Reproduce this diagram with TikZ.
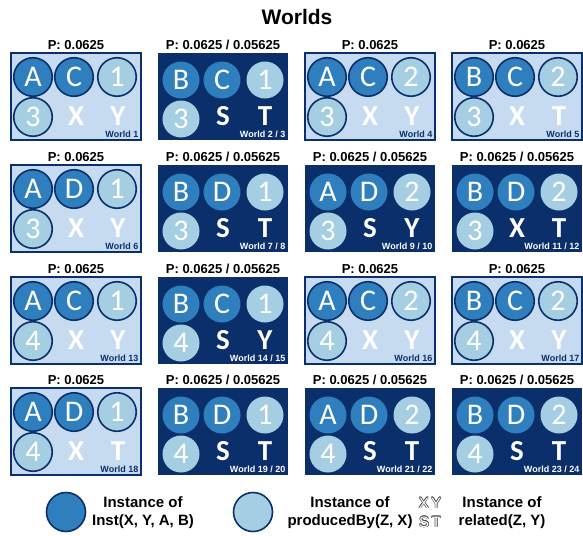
\documentclass[tikz,border=0pt]{standalone}
\usepackage{fontspec}
\setmainfont{Liberation Sans}
\newfontfamily\circfont{Carlito}
\definecolor{navy}{HTML}{0B2F6B}
\definecolor{midblue}{HTML}{2F7FBF}
\definecolor{lightc}{HTML}{A6CEE3}
\definecolor{lightbg}{HTML}{C6DBEF}
\tikzset{
  lightbox/.style={draw=navy, line width=1.5pt, fill=lightbg, minimum width=130pt, minimum height=87pt, inner sep=0pt, outer sep=0pt, anchor=north west},
  darkbox/.style={fill=navy, minimum width=130pt, minimum height=87pt, inner sep=0pt, outer sep=0pt, anchor=north west},
  lcirc/.style={circle, draw=navy, line width=1.6pt, minimum size=38.5pt, inner sep=0pt, text=white, font=\circfont\fontsize{30}{30}\selectfont},
  dcirc/.style={circle, minimum size=37pt, inner sep=0pt, text=white, font=\circfont\fontsize{30}{30}\selectfont},
  bigletter/.style={inner sep=0pt, text=white, font=\circfont\bfseries\fontsize{29}{29}\selectfont},
  wlabel/.style={inner sep=0pt, anchor=base east, font=\bfseries\fontsize{9}{10}\selectfont},
  plabel/.style={inner sep=0pt, anchor=base, font=\bfseries\fontsize{13}{14}\selectfont},
  legtext/.style={inner sep=0pt, align=center, font=\bfseries\fontsize{15}{18}\selectfont},
  olet/.style={inner sep=0pt, font=\fontsize{15}{16}\selectfont},
}
\newcommand\world[9]{%
  \def\WLid{#1}\def\WLx{#2}\def\WLy{#3}\def\WLt{#4}%
  \def\WLa{#5}\def\WLb{#6}\def\WLc{#7}\def\WLd{#8}\def\WLe{#9}%
  \worldrest}
\newcommand\worldrest[3]{%
  \begin{scope}[shift={(\WLx,\WLy)}]
  \if L\WLt
    \node[lightbox] (box-\WLid) at (0,0) {};
    \node[lcirc, fill=midblue] (a-\WLid) at (22,24) {\WLa};
    \node[lcirc, fill=midblue] (b-\WLid) at (63,24) {\WLb};
    \node[lcirc, fill=lightc] (c-\WLid) at (106,24) {\WLc};
    \node[lcirc, fill=lightc] (d-\WLid) at (22,64) {\WLd};
    \node[bigletter] (e-\WLid) at (65,63) {\WLe};
    \node[bigletter] (f-\WLid) at (107,63) {#1};
    \node[wlabel, text=navy] (w-\WLid) at (127.5,84.5) {#2};
  \else
    \node[darkbox] (box-\WLid) at (0,0) {};
    \node[dcirc, fill=midblue] (a-\WLid) at (23,27) {\WLa};
    \node[dcirc, fill=midblue] (b-\WLid) at (64,27) {\WLb};
    \node[dcirc, fill=lightc] (c-\WLid) at (107,27) {\WLc};
    \node[dcirc, fill=lightc] (d-\WLid) at (23,66) {\WLd};
    \node[bigletter] (e-\WLid) at (65,63) {\WLe};
    \node[bigletter] (f-\WLid) at (107,63) {#1};
    \node[wlabel, text=white] (w-\WLid) at (127.5,84.5) {#2};
  \fi
    \node[plabel] (p-\WLid) at (65,-4) {#3};
  \end{scope}}
\newcommand\outlinedtext[3]{%
  \foreach \dx/\dy in {0.6/0,-0.6/0,0/0.6,0/-0.6,0.45/0.45,-0.45/0.45,0.45/-0.45,-0.45/-0.45}
    \node[olet, text=black!70, xshift=\dx pt, yshift=\dy pt] at (#2) {#3};
  \node[olet, text=white] (#1) at (#2) {#3};}
\begin{document}
\begin{tikzpicture}[x=1pt, y=-1pt]
\useasboundingbox (0,0) rectangle (583,535);
\node[font=\bfseries\fontsize{21}{22}\selectfont, inner sep=0pt] (title) at (297,17) {Worlds};
% row 1
\world{w1}{11}{53}{L}{A}{C}{1}{3}{X}{Y}{World 1}{P: 0.0625}
\world{w2}{158}{53}{D}{B}{C}{1}{3}{S}{T}{World 2 / 3}{P: 0.0625 / 0.05625}
\world{w4}{305}{53}{L}{A}{C}{2}{3}{X}{Y}{World 4}{P: 0.0625}
\world{w5}{452}{53}{L}{B}{C}{2}{3}{X}{T}{World 5}{P: 0.0625}
% row 2
\world{w6}{11}{165}{L}{A}{D}{1}{3}{X}{Y}{World 6}{P: 0.0625}
\world{w7}{158}{165}{D}{B}{D}{1}{3}{S}{T}{World 7 / 8}{P: 0.0625 / 0.05625}
\world{w9}{305}{165}{D}{A}{D}{2}{3}{S}{Y}{World 9 / 10}{P: 0.0625 / 0.05625}
\world{w11}{452}{165}{D}{B}{D}{2}{3}{X}{T}{World 11 / 12}{P: 0.0625 / 0.05625}
% row 3
\world{w13}{11}{277}{L}{A}{C}{1}{4}{X}{Y}{World 13}{P: 0.0625}
\world{w14}{158}{277}{D}{B}{C}{1}{4}{S}{Y}{World 14 / 15}{P: 0.0625 / 0.05625}
\world{w16}{305}{277}{L}{A}{C}{2}{4}{X}{Y}{World 16}{P: 0.0625}
\world{w17}{452}{277}{L}{B}{C}{2}{4}{X}{Y}{World 17}{P: 0.0625}
% row 4
\world{w18}{11}{388}{L}{A}{D}{1}{4}{X}{T}{World 18}{P: 0.0625}
\world{w19}{158}{388}{D}{B}{D}{1}{4}{S}{T}{World 19 / 20}{P: 0.0625 / 0.05625}
\world{w21}{305}{388}{D}{A}{D}{2}{4}{S}{T}{World 21 / 22}{P: 0.0625 / 0.05625}
\world{w23}{452}{388}{D}{B}{D}{2}{4}{S}{T}{World 23 / 24}{P: 0.0625 / 0.05625}
% legend
\node[circle, fill=midblue, draw=navy, line width=1.6pt, minimum size=39pt, inner sep=0pt] (leg1) at (66,512) {};
\node[legtext] (legt1) at (143,513) {Instance of\\Inst(X, Y, A, B)};
\node[circle, fill=lightc, draw=navy, line width=1.6pt, minimum size=39pt, inner sep=0pt] (leg2) at (253,512) {};
\node[legtext] (legt2) at (350,513) {Instance of\\producedBy(Z, X)};
\outlinedtext{xy}{430,503}{X\,Y}
\outlinedtext{st}{430,522}{S\,T}
\node[legtext] (legt3) at (502,513) {Instance of\\related(Z, Y)};
\end{tikzpicture}
\end{document}
